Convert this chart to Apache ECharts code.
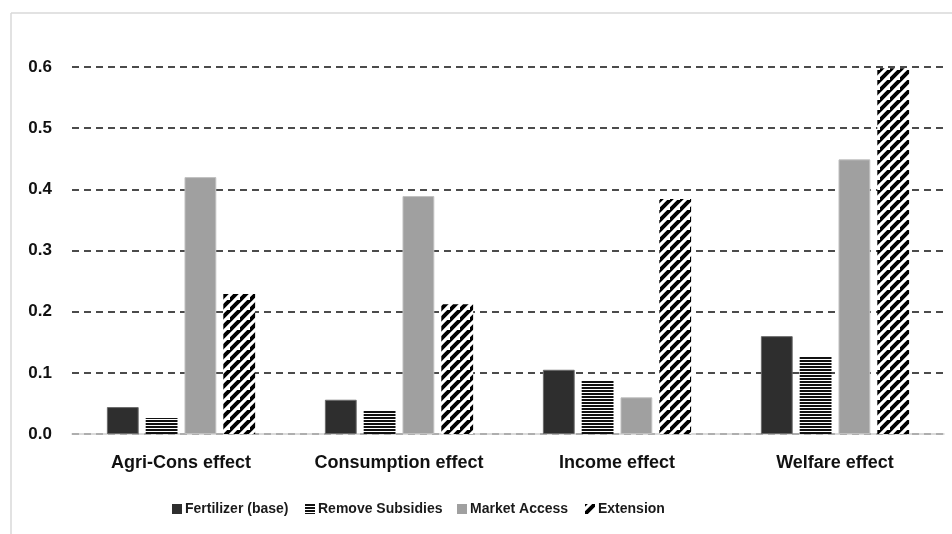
<!DOCTYPE html>
<html>
<head>
<meta charset="utf-8">
<script src="https://cdn.jsdelivr.net/npm/echarts@6/dist/echarts.min.js"></script>
<style>
  html, body { margin: 0; padding: 0; background: #ffffff; }
  #chart { width: 952px; height: 534px; }
</style>
</head>
<body>
<div id="chart"></div>
<script>
// Effects by scenario
const categories = ['Agri-Cons effect', 'Consumption effect', 'Income effect', 'Welfare effect'];
const seriesNames = ['Fertilizer (base)', 'Remove Subsidies', 'Market Access', 'Extension'];
const fertilizerBase = [0.044, 0.056, 0.105, 0.160];
const removeSubsidies = [0.026, 0.039, 0.088, 0.126];
const marketAccess = [0.420, 0.389, 0.060, 0.449];
const extension = [0.229, 0.212, 0.384, 0.598];
const yTicks = [0, 0.1, 0.2, 0.3, 0.4, 0.5, 0.6];

const FONT = '"Liberation Sans", Arial, sans-serif';

// Horizontal-line fill: 2px black rows with a 1px white gap
function horizontalLines() {
  const c = document.createElement('canvas');
  c.width = 4; c.height = 3;
  const g = c.getContext('2d');
  g.fillStyle = '#ffffff';
  g.fillRect(0, 0, 4, 3);
  g.fillStyle = '#111111';
  g.fillRect(0, 0, 4, 2);
  return c;
}

// Wide diagonal stripes rising to the right
function diagonalStripes() {
  const s = 10;
  const c = document.createElement('canvas');
  c.width = s; c.height = s;
  const g = c.getContext('2d');
  g.fillStyle = '#ffffff';
  g.fillRect(0, 0, s, s);
  g.strokeStyle = '#000000';
  g.lineWidth = 4;
  g.lineCap = 'square';
  g.beginPath();
  g.moveTo(-1, s + 1); g.lineTo(s + 1, -1);
  g.moveTo(-s - 1, s + 1); g.lineTo(1, -1);
  g.moveTo(s - 1, 2 * s + 1); g.lineTo(2 * s + 1, s - 1);
  g.stroke();
  return c;
}

const chart = echarts.init(document.getElementById('chart'), null, { renderer: 'canvas' });

const fills = [
  '#2e2e2e',
  { image: horizontalLines(), repeat: 'repeat' },
  '#a0a0a0',
  { image: diagonalStripes(), repeat: 'repeat' }
];
const borders = ['#6a6a6a', '#ffffff', '#c0c0c0', '#ffffff'];
const values = [fertilizerBase, removeSubsidies, marketAccess, extension];
const legendLeft = [172, 305, 457, 585];

chart.setOption({
  animation: false,
  backgroundColor: '#ffffff',
  graphic: [
    { type: 'line', shape: { x1: 11, y1: 13, x2: 952, y2: 13 }, style: { stroke: '#d9d9d9', lineWidth: 1.5 } },
    { type: 'line', shape: { x1: 11, y1: 13, x2: 11, y2: 534 }, style: { stroke: '#d9d9d9', lineWidth: 1.5 } }
  ],
  legend: seriesNames.map((name, i) => ({
    data: [name],
    icon: 'rect',
    left: legendLeft[i],
    top: 502,
    itemWidth: 10,
    itemHeight: 10,
    padding: 0,
    itemStyle: { borderWidth: 0 },
    textStyle: { fontFamily: FONT, fontWeight: 'bold', fontSize: 14, color: '#1a1a1a', padding: [0, 0, 0, -2] }
  })),
  grid: { left: 72, right: 8, top: 67, bottom: 100, containLabel: false },
  xAxis: {
    type: 'category',
    data: categories,
    axisTick: { show: false },
    axisLine: { lineStyle: { color: '#d0d0d0', width: 1.5 } },
    axisLabel: { interval: 0, fontFamily: FONT, fontWeight: 'bold', fontSize: 18, color: '#111111', margin: 20 }
  },
  yAxis: {
    type: 'value',
    min: yTicks[0],
    max: yTicks[yTicks.length - 1],
    interval: 0.1,
    axisLine: { show: false },
    axisTick: { show: false },
    axisLabel: {
      fontFamily: FONT, fontWeight: 'bold', fontSize: 17, color: '#111111', margin: 20,
      formatter: v => v.toFixed(1)
    },
    splitLine: { lineStyle: { color: '#111111', type: [7, 5], width: 1.5 } }
  },
  series: seriesNames.map((name, i) => ({
    name: name,
    type: 'bar',
    data: values[i],
    barGap: '22%',
    barCategoryGap: '32%',
    itemStyle: { color: fills[i], borderColor: borders[i], borderWidth: i === 0 || i === 2 ? 1 : 0 }
  }))
});
</script>
</body>
</html>
